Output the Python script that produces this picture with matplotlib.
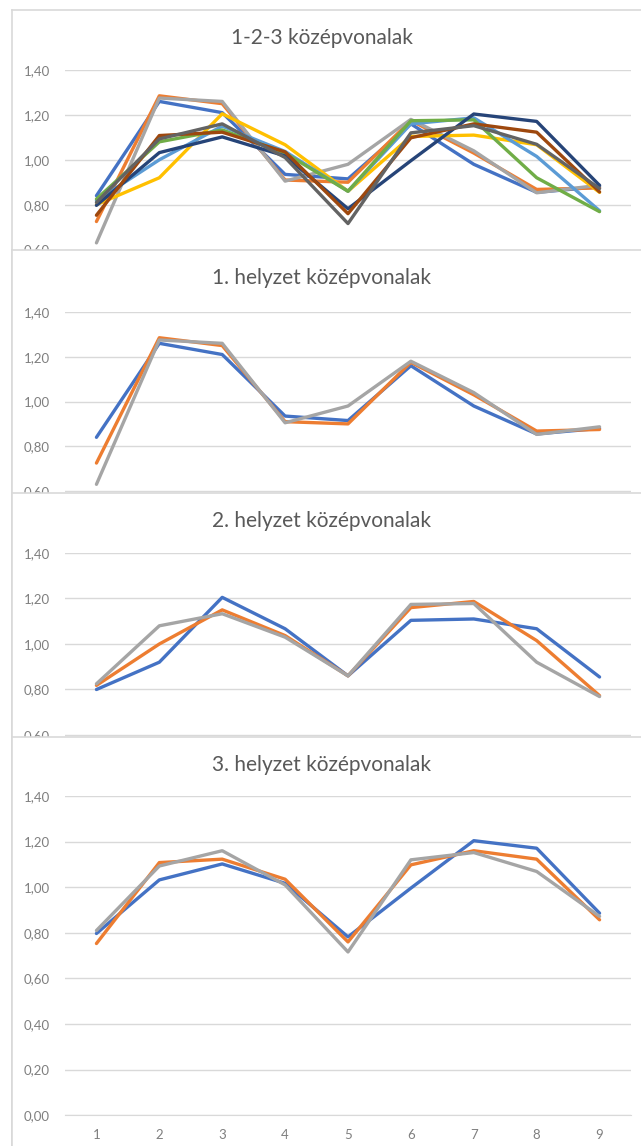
import matplotlib
matplotlib.use("Agg")
import matplotlib.pyplot as plt
from matplotlib.ticker import FuncFormatter, FixedLocator

# ---------------- data ----------------
categories = [1, 2, 3, 4, 5, 6, 7, 8, 9]

# 1. helyzet
h1_a = [0.84, 1.26, 1.21, 0.935, 0.915, 1.16, 0.98, 0.855, 0.88]
h1_b = [0.725, 1.285, 1.25, 0.91, 0.90, 1.175, 1.03, 0.868, 0.875]
h1_c = [0.63, 1.275, 1.26, 0.905, 0.98, 1.18, 1.04, 0.853, 0.887]

# 2. helyzet
h2_a = [0.80, 0.92, 1.205, 1.067, 0.86, 1.104, 1.11, 1.067, 0.855]
h2_b = [0.818, 1.00, 1.15, 1.037, 0.86, 1.16, 1.187, 1.015, 0.773]
h2_c = [0.825, 1.08, 1.133, 1.03, 0.86, 1.174, 1.178, 0.92, 0.769]

# 3. helyzet
h3_a = [0.797, 1.032, 1.102, 1.017, 0.782, 0.996, 1.204, 1.171, 0.886]
h3_b = [0.753, 1.108, 1.123, 1.035, 0.76, 1.098, 1.16, 1.123, 0.857]
h3_c = [0.81, 1.093, 1.16, 1.01, 0.716, 1.12, 1.152, 1.069, 0.872]

titles = ["1-2-3 középvonalak", "1. helyzet középvonalak",
          "2. helyzet középvonalak", "3. helyzet középvonalak"]
y_ticks = [0.0, 0.2, 0.4, 0.6, 0.8, 1.0, 1.2, 1.4]

excel9 = ["#4472C4", "#ED7D31", "#A5A5A5", "#FFC000", "#5B9BD5",
          "#70AD47", "#264478", "#9E480E", "#636363"]
excel3 = excel9[:3]

panel_series = [
    [h1_a, h1_b, h1_c, h2_a, h2_b, h2_c, h3_a, h3_b, h3_c],
    [h1_a, h1_b, h1_c],
    [h2_a, h2_b, h2_c],
    [h3_a, h3_b, h3_c],
]
panel_colors = [excel9, excel3, excel3, excel3]

# ---------------- layout (pixels) ----------------
W, H = 641, 1146
fig = plt.figure(figsize=(W / 100, H / 100), dpi=100)
fig.patch.set_facecolor("white")

def box(x0, y0, x1, y1):
    return [x0 / W, 1 - y1 / H, (x1 - x0) / W, (y1 - y0) / H]

frame_tops = [10, 250, 493, 737]
title_y = [38, 278, 521, 765]
plot_tops = [70, 312, 553, 796]
ppu = [224.5, 223.8, 227.5, 228.0]  # pixels per unit of y
px_left, px_right = 65, 631

FONT = ["Lato", "DejaVu Sans"]
fmt = FuncFormatter(lambda v, p: f"{v:.2f}".replace(".", ","))

for i in range(4):
    # frame (opaque, covers previous panel)
    fa = fig.add_axes(box(12, frame_tops[i], 700, 1200))
    fa.set_zorder(2 * i)
    fa.set_facecolor("white")
    fa.set_xticks([]); fa.set_yticks([])
    for s in fa.spines.values():
        s.set_color("#d9d9d9"); s.set_linewidth(1.2)

    top = plot_tops[i]
    bottom = top + 1.4 * ppu[i]
    ax = fig.add_axes(box(px_left, top, px_right, bottom))
    ax.set_zorder(2 * i + 1)
    ax.patch.set_alpha(0)
    ax.set_xlim(0.5, 9.5)
    ax.set_ylim(0, 1.4)
    ax.yaxis.set_major_locator(FixedLocator(y_ticks))
    ax.yaxis.set_major_formatter(fmt)
    ax.grid(axis="y", color="#d9d9d9", linewidth=1.0)
    ax.set_axisbelow(True)
    for s in ["top", "right", "left"]:
        ax.spines[s].set_visible(False)
    ax.spines["bottom"].set_color("#d9d9d9")
    ax.tick_params(axis="both", length=0, colors="#7f7f7f", labelsize=9.5)
    ax.tick_params(axis="y", pad=11)
    ax.tick_params(axis="x", pad=10)
    ax.set_xticks(categories)
    if i < 3:
        ax.set_xticklabels([])
    for lab in ax.get_xticklabels() + ax.get_yticklabels():
        lab.set_family(FONT)

    for vals, col in zip(panel_series[i], panel_colors[i]):
        ax.plot(categories, vals, color=col, linewidth=2.4,
                solid_joinstyle="round", solid_capstyle="round")

    fig.text(322 / W, 1 - title_y[i] / H, titles[i], ha="center", va="center",
             fontsize=15, color="#595959", family=FONT, zorder=2 * i + 1)

fig.savefig("out.png", dpi=100, facecolor="white")
